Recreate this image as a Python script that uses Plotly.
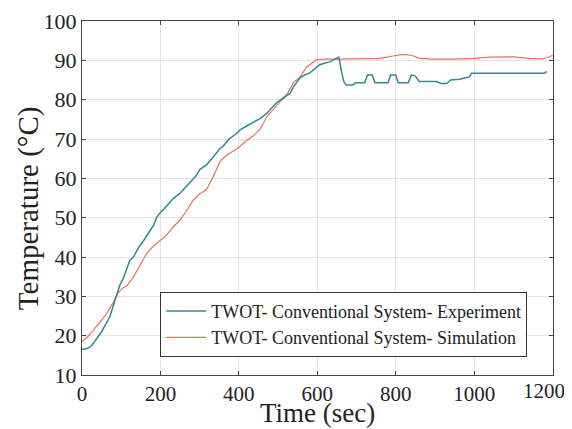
import plotly.graph_objects as go

# Experiment (teal, step-like)
exp_time = [0, 15, 25, 37, 50, 71, 88, 97, 105, 122, 131, 145, 156, 165, 182, 190, 199, 212, 224, 232,
            250, 262, 275, 290, 301, 318, 335, 352, 360, 375, 394, 403, 420, 437, 454, 471, 485, 496,
            505, 520, 530, 539, 555, 568, 581, 595, 606, 620, 632, 645, 655, 662, 668, 674, 691, 697,
            721, 728, 740, 747, 780, 787, 800, 806, 832, 840, 850, 860, 905, 915, 930, 940, 963, 988,
            993, 1180, 1185]
exp_temp = [16.5, 16.8, 17.5, 19.3, 21.0, 24.8, 29.8, 33.0, 34.5, 39.2, 40.0, 42.5, 44.0, 45.5, 48.0,
            50.0, 51.2, 52.5, 54.0, 54.8, 56.2, 57.5, 58.7, 60.5, 62.3, 63.5, 65.5, 67.6, 68.2, 70.0,
            71.4, 72.3, 73.3, 74.2, 75.2, 76.5, 78.0, 79.2, 79.8, 81.0, 81.5, 83.2, 85.5, 86.3, 86.8,
            88.0, 88.9, 89.3, 89.6, 90.3, 90.8, 87.0, 84.5, 83.7, 83.7, 84.3, 84.3, 86.3, 86.3, 84.3,
            84.3, 86.3, 86.3, 84.3, 84.3, 86.3, 86.0, 84.6, 84.6, 84.1, 84.1, 85.0, 85.2, 85.8, 86.7,
            86.7, 87.2]

# Simulation (red, smooth)
sim_time = [0, 15, 29, 46, 63, 80, 93, 105, 114, 131, 145, 165, 182, 199, 215, 233, 250, 265, 284, 300,
            318, 335, 352, 370, 394, 420, 437, 454, 471, 490, 505, 520, 539, 555, 573, 598, 620, 657,
            725, 760, 793, 818, 840, 861, 895, 946, 997, 1040, 1099, 1142, 1175, 1193, 1200]
sim_temp = [18.5, 19.8, 21.4, 23.5, 25.6, 28.5, 31.0, 32.2, 32.6, 34.9, 37.5, 40.9, 42.8, 44.2, 45.5,
            47.7, 49.4, 51.5, 54.5, 56.0, 57.2, 60.5, 64.3, 66.0, 67.4, 69.6, 70.8, 72.5, 75.6, 77.8,
            79.5, 80.8, 84.4, 85.6, 88.3, 90.1, 90.3, 90.3, 90.5, 90.5, 91.1, 91.5, 91.3, 90.5, 90.3,
            90.3, 90.5, 90.8, 90.9, 90.5, 90.4, 90.9, 91.3]

x_ticks = [0, 200, 400, 600, 800, 1000, 1200]
y_ticks = [10, 20, 30, 40, 50, 60, 70, 80, 90, 100]
legend_names = ["TWOT- Conventional System- Experiment", "TWOT- Conventional System- Simulation"]
x_title = "Time (sec)"
y_title = "Temperature (°C)"

serif = "Liberation Serif, Times New Roman, serif"
tick_font = dict(family=serif, size=21, color="#222222")

fig = go.Figure()
fig.add_trace(go.Scatter(x=sim_time, y=sim_temp, mode="lines", name=legend_names[1],
                         line=dict(color="#e8735a", width=1.2)))
fig.add_trace(go.Scatter(x=exp_time, y=exp_temp, mode="lines", name=legend_names[0],
                         line=dict(color="#2f8a94", width=1.5)))

axis_common = dict(showline=True, linecolor="#444444", linewidth=1, mirror="ticks",
                   ticks="inside", ticklen=4, tickcolor="#444444", automargin=False,
                   showgrid=True, gridcolor="#e4e4e4", gridwidth=1, zeroline=False)

# last x tick label is placed as an annotation, nudged left so it stays inside the page
x_ticktext = [str(v) for v in x_ticks[:-1]] + [""]

fig.update_layout(
    width=572, height=429,
    margin=dict(l=74, r=27, t=13, b=62),
    paper_bgcolor="white", plot_bgcolor="white",
    font=dict(family=serif, color="#222222"),
    xaxis=dict(range=[0, 1201], tickvals=x_ticks, ticktext=x_ticktext, **axis_common,
               tickfont=tick_font),
    yaxis=dict(range=[10, 100], tickvals=y_ticks, **axis_common,
               tickfont=dict(family=serif, size=22, color="#222222")),
    legend=dict(x=0.166, y=0.235, xanchor="left", yanchor="top", traceorder="reversed",
                bgcolor="white", bordercolor="#333333", borderwidth=1,
                font=dict(family=serif, size=18, color="#222222"),
                tracegroupgap=0, itemwidth=40),
    annotations=[
        dict(text=str(x_ticks[-1]), xref="x", yref="paper", x=x_ticks[-1], y=0,
             xanchor="center", yanchor="top", yshift=-2, xshift=-9, showarrow=False,
             font=tick_font),
        dict(text=x_title, xref="paper", yref="paper", x=0.5, y=-0.108,
             xanchor="center", yanchor="middle", showarrow=False,
             font=dict(family=serif, size=27, color="#222222")),
        dict(text=y_title, xref="paper", yref="paper", x=-0.112, y=0.472, textangle=-90,
             xanchor="center", yanchor="middle", showarrow=False,
             font=dict(family=serif, size=29, color="#222222")),
    ],
)

fig.write_html("out.html")
